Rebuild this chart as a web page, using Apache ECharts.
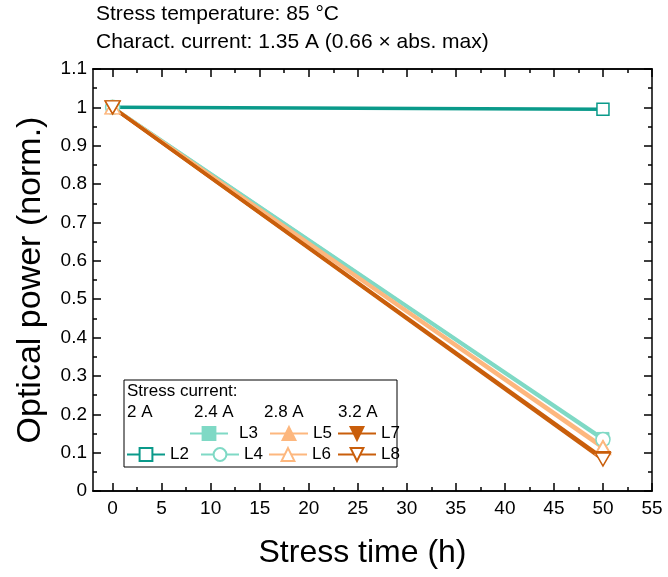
<!DOCTYPE html>
<html>
<head>
<meta charset="utf-8">
<script src="https://cdn.jsdelivr.net/npm/echarts@6/dist/echarts.min.js"></script>
<style>
  html, body { margin: 0; padding: 0; background: #fff; }
  #chart { width: 668px; height: 577px; }
</style>
</head>
<body>
<div id="chart"></div>
<script>
  // data
  const stressTime = [0, 50];
  const L2 = [1, 0.995];
  const L3 = [1, 0.137];
  const L4 = [1, 0.134];
  const L5 = [1, 0.116];
  const L6 = [1, 0.112];
  const L7 = [1, 0.086];
  const L8 = [1, 0.082];
  const xTicks = [0, 5, 10, 15, 20, 25, 30, 35, 40, 45, 50, 55];
  const xMinorTicks = [2.5, 7.5, 12.5, 17.5, 22.5, 27.5, 32.5, 37.5, 42.5, 47.5, 52.5];
  const currentGroups = ['2 A', '2.4 A', '2.8 A', '3.2 A'];

  const FONT = 'Liberation Sans, Arial, sans-serif';
  const darkTeal = '#0a9a8a';
  const lightTeal = '#7fd9c5';
  const lightOrange = '#fdb77e';
  const darkOrange = '#c95e0b';
  const downTri = 'path://M0,0 L20,0 L10,17 Z';

  function pairs(ys) {
    return stressTime.map((x, i) => [x, ys[i]]);
  }

  function mkSeries(name, ys, color, symbol, size, open) {
    return {
      name: name,
      type: 'line',
      data: pairs(ys),
      symbol: symbol,
      symbolSize: size,
      lineStyle: { color: color, width: 3.5 },
      itemStyle: open
        ? { color: '#fff', borderColor: color, borderWidth: 1.5 }
        : { color: color, borderColor: color, borderWidth: 1 },
      emphasis: { disabled: true },
      z: 2
    };
  }

  function legendAt(name, left, top, pad) {
    return {
      data: [name],
      left: left,
      top: top,
      padding: 0,
      itemWidth: 38,
      itemHeight: 16,
      selectedMode: false,
      textStyle: { fontSize: 17, fontFamily: FONT, color: '#000', padding: [0, 0, 0, pad || 0] },
      z: 5
    };
  }

  const axisLineStyle = { color: '#000', width: 1.5 };
  const tickStyle = { color: '#000', width: 1.5 };

  function xAxisDef(pos, values, len, labels) {
    return {
      type: 'value',
      min: -2,
      max: 55,
      position: pos,
      axisLine: { show: true, onZero: false, lineStyle: axisLineStyle },
      axisTick: { show: true, inside: true, length: len, customValues: values, lineStyle: tickStyle },
      axisLabel: labels
        ? { show: true, customValues: values, fontSize: 19, fontFamily: FONT, color: '#000', margin: 8 }
        : { show: false },
      splitLine: { show: false }
    };
  }

  function yAxisDef(pos, labels) {
    return {
      type: 'value',
      min: 0,
      max: 1.1,
      interval: 0.1,
      position: pos,
      axisLine: { show: true, onZero: false, lineStyle: axisLineStyle },
      axisTick: { show: true, inside: true, length: 8, lineStyle: tickStyle },
      minorTick: { show: true, splitNumber: 2, length: 4, lineStyle: tickStyle },
      axisLabel: labels
        ? { show: true, fontSize: 19, fontFamily: FONT, color: '#000', margin: 6 }
        : { show: false },
      splitLine: { show: false }
    };
  }

  const xMain = xAxisDef('bottom', xTicks, 8, true);
  xMain.name = 'Stress time (h)';
  xMain.nameLocation = 'middle';
  xMain.nameGap = 46;
  xMain.nameTextStyle = { fontSize: 32, fontFamily: FONT, color: '#000', padding: [0, 20, 0, 0] };

  const yMain = yAxisDef('left', true);
  yMain.name = 'Optical power (norm.)';
  yMain.nameLocation = 'middle';
  yMain.nameGap = 45;
  yMain.nameTextStyle = { fontSize: 34, fontFamily: FONT, color: '#000' };

  const option = {
    animation: false,
    backgroundColor: '#fff',
    textStyle: { fontFamily: FONT },
    grid: { left: 93, right: 16, top: 69, bottom: 86, containLabel: false },
    xAxis: [
      xMain,
      xAxisDef('bottom', xMinorTicks, 4, false),
      xAxisDef('top', xTicks, 8, false),
      xAxisDef('top', xMinorTicks, 4, false)
    ],
    yAxis: [yMain, yAxisDef('right', false)],
    legend: [
      legendAt('L2', 126, 446),
      legendAt('L3', 189, 425, 6),
      legendAt('L4', 200, 446),
      legendAt('L5', 269, 425),
      legendAt('L6', 268, 446),
      legendAt('L7', 337, 425),
      legendAt('L8', 337, 446)
    ],
    graphic: [
      { type: 'text', left: 96, top: 4, style: { text: 'Stress temperature: 85 °C', fontSize: 21, fontFamily: FONT, fill: '#000' } },
      { type: 'text', left: 96, top: 32, style: { text: 'Charact. current: 1.35 A (0.66 × abs. max)', fontSize: 21, fontFamily: FONT, fill: '#000' } },
      { type: 'rect', z: 3, shape: { x: 124, y: 380, width: 273, height: 87 }, style: { fill: '#fff', stroke: '#000', lineWidth: 1 } },
      { type: 'text', z: 4, left: 127, top: 383, style: { text: 'Stress current:', fontSize: 17, fontFamily: FONT, fill: '#000' } },
      { type: 'text', z: 4, left: 127, top: 404, style: { text: currentGroups[0], fontSize: 17, fontFamily: FONT, fill: '#000' } },
      { type: 'text', z: 4, left: 194, top: 404, style: { text: currentGroups[1], fontSize: 17, fontFamily: FONT, fill: '#000' } },
      { type: 'text', z: 4, left: 264, top: 404, style: { text: currentGroups[2], fontSize: 17, fontFamily: FONT, fill: '#000' } },
      { type: 'text', z: 4, left: 338, top: 404, style: { text: currentGroups[3], fontSize: 17, fontFamily: FONT, fill: '#000' } }
    ],
    series: [
      mkSeries('L2', L2, darkTeal, 'rect', 12, true),
      mkSeries('L3', L3, lightTeal, 'rect', 12, false),
      mkSeries('L4', L4, lightTeal, 'circle', 14, true),
      mkSeries('L5', L5, lightOrange, 'triangle', [15, 13], false),
      mkSeries('L6', L6, lightOrange, 'triangle', [15, 13], true),
      mkSeries('L7', L7, darkOrange, downTri, [15, 13], false),
      mkSeries('L8', L8, darkOrange, downTri, [15, 13], true)
    ]
  };

  const chart = echarts.init(document.getElementById('chart'), null, { renderer: 'canvas' });
  chart.setOption(option);
</script>
</body>
</html>
